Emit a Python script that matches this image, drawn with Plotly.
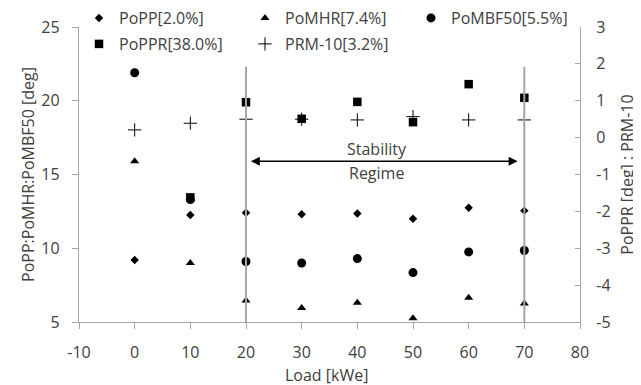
import plotly.graph_objects as go

# ---- data ----
load_kwe = [0, 10, 20, 30, 40, 50, 60, 70]
popp = [9.2, 12.25, 12.4, 12.3, 12.35, 12.0, 12.75, 12.55]
pomhr = [15.9, 9.0, 6.45, 5.95, 6.3, 5.25, 6.65, 6.25]
pombf50 = [21.9, 13.3, 9.1, 9.0, 9.3, 8.35, 9.75, 9.85]
poppr = [None, -1.62, 0.96, 0.51, 0.97, 0.42, 1.45, 1.08]
prm10 = [0.21, 0.39, 0.5, 0.5, 0.48, 0.57, 0.48, 0.48]

names_row1 = ["PoPP[2.0%]", "PoMHR[7.4%]", "PoMBF50[5.5%]"]
names_row2 = ["PoPPR[38.0%]", "PRM-10[3.2%]"]

regime_bounds = [20, 70]
regime_line_top = 22.3
arrow_level = 15.9
regime_labels = ["Stability", "Regime"]

x_title = "Load [kWe]"
x_ticks = [-10, 0, 10, 20, 30, 40, 50, 60, 70, 80]
x_tick_labels = ["-10", "0", "10", "20", "30", "40", "50", "60", "70", "80"]
y_left_ticks = [5, 10, 15, 20, 25]
y_left_labels = ["5", "10", "15", "20", "25"]
y_right_ticks = [-5, -4, -3, -2, -1, 0, 1, 2, 3]
y_right_labels = ["-5", "-4", "-3", "-2", "-1", "0", "1", "2", "3"]

FONT = "Open Sans"
TXT = "#404040"
AX = "#a6a6a6"

fig = go.Figure()

fig.add_trace(go.Scatter(x=load_kwe, y=popp, mode="markers", name=names_row1[0],
                         marker=dict(symbol="diamond", size=6.5, color="black"),
                         legend="legend"))
fig.add_trace(go.Scatter(x=load_kwe, y=pomhr, mode="markers", name=names_row1[1],
                         marker=dict(symbol="triangle-up", size=8, color="black"),
                         legend="legend"))
fig.add_trace(go.Scatter(x=load_kwe, y=pombf50, mode="markers", name=names_row1[2],
                         marker=dict(symbol="circle", size=9, color="black"),
                         legend="legend"))
fig.add_trace(go.Scatter(x=load_kwe, y=poppr, mode="markers", name=names_row2[0],
                         marker=dict(symbol="square", size=8.5, color="black"),
                         yaxis="y2", legend="legend2"))
fig.add_trace(go.Scatter(x=load_kwe, y=prm10, mode="markers", name=names_row2[1],
                         marker=dict(symbol="cross-thin", size=9.5, color="black",
                                     line=dict(width=1, color="black")),
                         yaxis="y2", legend="legend2"))

# regime boundary lines
for xb in regime_bounds:
    fig.add_shape(type="line", xref="x", yref="y", x0=xb, x1=xb, y0=5, y1=regime_line_top,
                  line=dict(color=AX, width=2), layer="above")

# double-headed arrow
fig.add_annotation(x=regime_bounds[1] - 1.2, y=arrow_level, ax=regime_bounds[0] + 0.6, ay=arrow_level,
                   xref="x", yref="y", axref="x", ayref="y", text="", showarrow=True,
                   arrowhead=2, arrowside="end+start", arrowsize=1.2, arrowwidth=1.5,
                   arrowcolor="black", standoff=0, startstandoff=0)
mid = (regime_bounds[0] + regime_bounds[1]) / 2
fig.add_annotation(x=mid - 1.5, y=arrow_level + 0.83, xref="x", yref="y", text=regime_labels[0],
                   showarrow=False, font=dict(family=FONT, size=16, color=TXT))
fig.add_annotation(x=mid - 1.5, y=arrow_level - 0.8, xref="x", yref="y", text=regime_labels[1],
                   showarrow=False, font=dict(family=FONT, size=16, color=TXT))

# x-axis title as annotation so it can sit a little higher than the margin clamp
fig.add_annotation(x=0.495, y=-(375 - 322) / 295, xref="paper", yref="paper", text=x_title,
                   showarrow=False, xanchor="center", yanchor="middle", borderpad=0,
                   font=dict(family=FONT, size=16, color=TXT))

fig.update_layout(
    width=641, height=385,
    margin=dict(l=71, r=69, t=19, b=71, autoexpand=False),
    paper_bgcolor="white", plot_bgcolor="white",
    font=dict(family=FONT, size=16, color=TXT),
    xaxis=dict(range=[-10, 80], tickvals=x_ticks, ticktext=x_tick_labels, showgrid=False,
               zeroline=False, showline=True, linecolor=AX, linewidth=1.3, ticks="outside",
               ticklen=6, tickcolor=AX, ticklabelstandoff=10),
    yaxis=dict(range=[5, 25], tickvals=y_left_ticks, ticktext=y_left_labels, showgrid=False,
               zeroline=False, showline=True, linecolor=AX, linewidth=1.3, ticks="outside",
               ticklen=6, tickcolor=AX, ticklabelstandoff=9,
               title=dict(text="PoPP:PoMHR:PoMBF50 [deg]", standoff=2,
                          font=dict(size=16, color=TXT))),
    yaxis2=dict(range=[-5, 3], tickvals=y_right_ticks, ticktext=y_right_labels,
                overlaying="y", side="right", showgrid=False, zeroline=False, showline=True,
                linecolor=AX, linewidth=1.3, ticks="inside", ticklen=5, tickcolor=AX,
                ticklabelstandoff=12,
                title=dict(text="PoPPR [deg] : PRM-10", standoff=12,
                           font=dict(size=16, color=TXT))),
    legend=dict(x=0, y=(322 - 18) / 295, xanchor="left", yanchor="middle",
                orientation="h", entrywidth=121, entrywidthmode="pixels",
                bgcolor="rgba(0,0,0,0)", font=dict(family=FONT, size=16, color=TXT),
                itemwidth=30, tracegroupgap=0),
    legend2=dict(x=0, y=(322 - 44) / 295, xanchor="left", yanchor="middle",
                 orientation="h", entrywidth=121, entrywidthmode="pixels",
                 bgcolor="rgba(0,0,0,0)", font=dict(family=FONT, size=16, color=TXT),
                 itemwidth=30, tracegroupgap=0),
    showlegend=True,
)

fig.write_html("out.html")
